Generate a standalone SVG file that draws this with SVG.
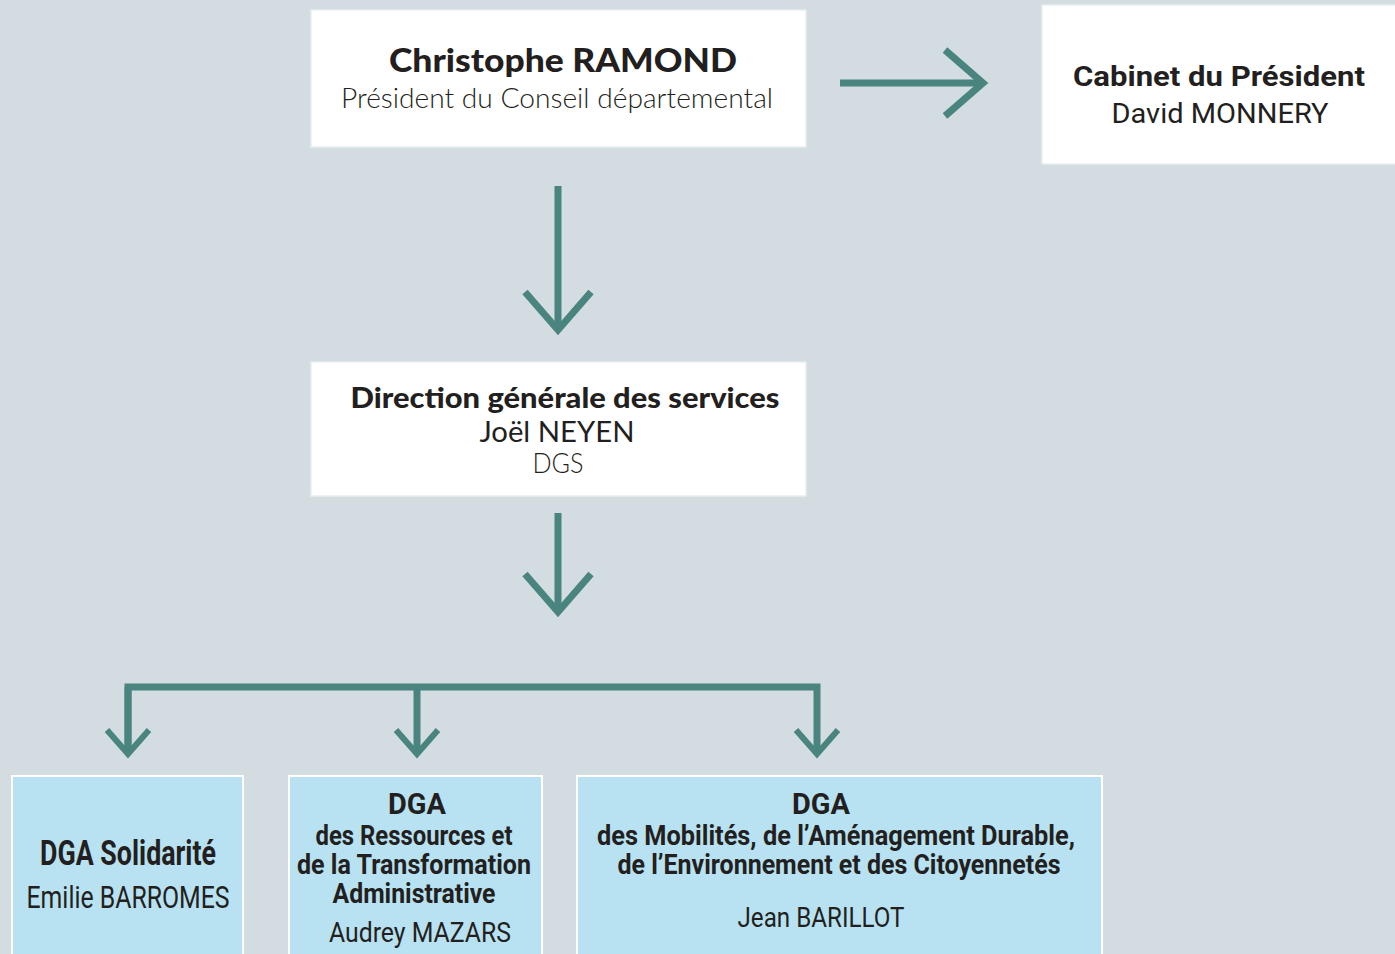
<svg xmlns="http://www.w3.org/2000/svg" width="1395" height="954" viewBox="0 0 1395 954">
<style>
.bg{fill:#d3dce0}
.wbox{fill:#ffffff;stroke:#e9eef0;stroke-width:1.5}
.bbox{fill:#b8e2f1;stroke:#ffffff;stroke-width:2}
.conn{fill:none;stroke:#4a847e;stroke-width:7;stroke-linejoin:miter}
text{fill:#231f20;text-anchor:middle}
.fb{font-family:Lato,"Liberation Sans",sans-serif;font-weight:900}
.fl{font-family:Lato,"Liberation Sans",sans-serif;font-weight:300}
.fr{font-family:Lato,"Liberation Sans",sans-serif;font-weight:400}
.rb{font-family:Roboto,"Liberation Sans",sans-serif;font-weight:700}
.rr{font-family:Roboto,"Liberation Sans",sans-serif;font-weight:400}
.cb{font-family:Roboto,"Liberation Sans",sans-serif;font-weight:700}
.cr{font-family:Roboto,"Liberation Sans",sans-serif;font-weight:400}
</style>
<defs>
<marker id="chev" markerUnits="userSpaceOnUse" viewBox="-50 -40 60 80" markerWidth="60" markerHeight="80" refX="0" refY="0" orient="auto">
<path d="M-38,-33 L0,0 L-38,33" fill="none" stroke="#4a847e" stroke-width="7" stroke-linejoin="miter"/>
</marker>
<marker id="chevs" markerUnits="userSpaceOnUse" viewBox="-40 -30 50 60" markerWidth="50" markerHeight="60" refX="0" refY="0" orient="auto">
<path d="M-24,-21 L0,0 L-24,21" fill="none" stroke="#4a847e" stroke-width="6" stroke-linejoin="miter"/>
</marker>
</defs>
<rect class="bg" x="0" y="0" width="1395" height="954"/>

<g id="connectors">
<path class="conn" d="M840,83 H983" marker-end="url(#chev)"/>
<path class="conn" d="M558,186 V330" marker-end="url(#chev)"/>
<path class="conn" d="M558,513 V612" marker-end="url(#chev)"/>
<path class="conn" d="M128,754 V687 H817 V754" marker-end="url(#chevs)"/>
<path class="conn" d="M128,687 V754" marker-end="url(#chevs)"/>
<path class="conn" d="M417,687 V754" marker-end="url(#chevs)"/>
</g>

<g id="president">
<rect class="wbox" x="311" y="10" width="495" height="137"/>
<text class="fb" x="563" y="72" font-size="32" textLength="348" lengthAdjust="spacingAndGlyphs">Christophe RAMOND</text>
<text class="fl" x="557" y="108" font-size="27" textLength="432" lengthAdjust="spacingAndGlyphs">Président du Conseil départemental</text>
</g>

<g id="cabinet">
<rect class="wbox" x="1042" y="5" width="360" height="159"/>
<text class="rb" x="1219" y="86" font-size="28" textLength="292" lengthAdjust="spacingAndGlyphs">Cabinet du Président</text>
<text class="rr" x="1220" y="123" font-size="28" textLength="217" lengthAdjust="spacingAndGlyphs">David MONNERY</text>
</g>

<g id="dgs">
<rect class="wbox" x="311" y="362" width="495" height="134"/>
<text class="fb" x="565" y="408" font-size="28" textLength="429" lengthAdjust="spacingAndGlyphs">Direction générale des services</text>
<text class="fr" x="557" y="442" font-size="28" textLength="155" lengthAdjust="spacingAndGlyphs">Joël NEYEN</text>
<text class="fl" x="558" y="473" font-size="27" textLength="51" lengthAdjust="spacingAndGlyphs">DGS</text>
</g>

<g id="dga-solidarite">
<rect class="bbox" x="12" y="776" width="231" height="182"/>
<text class="cb" x="128" y="865" font-size="35" textLength="176" lengthAdjust="spacingAndGlyphs">DGA Solidarité</text>
<text class="cr" x="128" y="908" font-size="32" textLength="203" lengthAdjust="spacingAndGlyphs">Emilie BARROMES</text>
</g>

<g id="dga-ressources">
<rect class="bbox" x="289" y="776" width="253" height="182"/>
<text class="cb" x="417" y="814" font-size="30" textLength="58" lengthAdjust="spacingAndGlyphs">DGA</text>
<text class="cb" x="414" y="845" font-size="28" textLength="197" lengthAdjust="spacingAndGlyphs">des Ressources et</text>
<text class="cb" x="414" y="874" font-size="28" textLength="234" lengthAdjust="spacingAndGlyphs">de la Transformation</text>
<text class="cb" x="414" y="903" font-size="28" textLength="163" lengthAdjust="spacingAndGlyphs">Administrative</text>
<text class="cr" x="420" y="942" font-size="28" textLength="182" lengthAdjust="spacingAndGlyphs">Audrey MAZARS</text>
</g>

<g id="dga-mobilites">
<rect class="bbox" x="577" y="776" width="525" height="182"/>
<text class="cb" x="821" y="814" font-size="30" textLength="58" lengthAdjust="spacingAndGlyphs">DGA</text>
<text class="cb" x="836" y="845" font-size="28" textLength="478" lengthAdjust="spacingAndGlyphs">des Mobilités, de l’Aménagement Durable,</text>
<text class="cb" x="839" y="874" font-size="28" textLength="443" lengthAdjust="spacingAndGlyphs">de l’Environnement et des Citoyennetés</text>
<text class="cr" x="821" y="927" font-size="28" textLength="167" lengthAdjust="spacingAndGlyphs">Jean BARILLOT</text>
</g>
</svg>
